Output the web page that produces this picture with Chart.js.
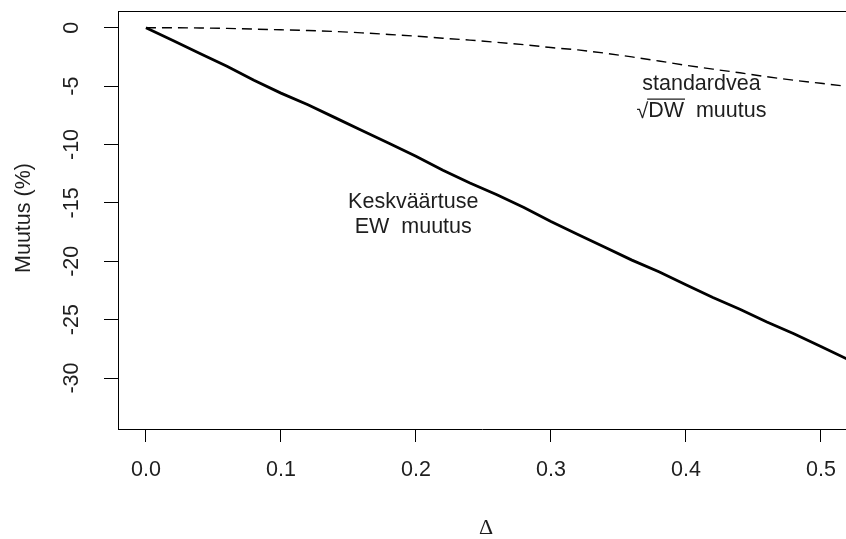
<!DOCTYPE html>
<html>
<head>
<meta charset="utf-8">
<script src="https://cdn.jsdelivr.net/npm/chart.js@4"></script>
<style>
html,body{margin:0;padding:0;background:#fff;overflow:hidden;}
#wrap{width:846px;height:539px;position:relative;}
</style>
</head>
<body>
<div id="wrap"><canvas id="c" width="846" height="539"></canvas></div>
<script>
// ---- data ----
const deltaX = [0, 0.02, 0.04, 0.06, 0.08, 0.10, 0.12, 0.14, 0.16, 0.18, 0.20, 0.22, 0.24, 0.26,
                0.28, 0.30, 0.32, 0.34, 0.36, 0.38, 0.40, 0.42, 0.44, 0.46, 0.48, 0.50, 0.52];
const ewChange = [0, -1.1, -2.2, -3.3, -4.5, -5.6, -6.6, -7.7, -8.8, -9.9, -11.0, -12.2, -13.3, -14.3,
                  -15.4, -16.6, -17.7, -18.8, -19.9, -20.9, -22.0, -23.1, -24.1, -25.2, -26.2, -27.3, -28.4];
const dwChange = [0, 0, -0.02, -0.06, -0.12, -0.18, -0.24, -0.32, -0.44, -0.58, -0.72, -0.90, -1.06, -1.25,
                  -1.45, -1.70, -1.90, -2.18, -2.50, -2.85, -3.22, -3.55, -3.86, -4.20, -4.50, -4.76, -5.03];
const xTicks = [0, 0.1, 0.2, 0.3, 0.4, 0.5];
const xTickLabels = ["0.0", "0.1", "0.2", "0.3", "0.4", "0.5"];
const yTicks = [0, -5, -10, -15, -20, -25, -30];
const yTickLabels = ["0", "-5", "-10", "-15", "-20", "-25", "-30"];
const xTitle = "\u0394";
const yTitle = "Muutus (%)";
const ewLabel = ["Keskväärtuse", "EW  muutus"];
const dwLabel = ["standardvea", "DW", "  muutus"];

const FONT = "'Liberation Sans', Arial, sans-serif";
const TXT = "#1e1e1e";

const pts = (ys) => deltaX.map((x, i) => ({x: x, y: ys[i]}));

const textPlugin = {
  id: 'texts',
  afterDraw(chart) {
    const ctx = chart.ctx;
    const a = chart.chartArea;
    const xs = chart.scales.x, ys = chart.scales.y;
    ctx.save();
    // top border of the plot box
    ctx.strokeStyle = '#000';
    ctx.lineWidth = 1;
    ctx.beginPath();
    ctx.moveTo(a.left, a.top + 0.5);
    ctx.lineTo(a.right, a.top + 0.5);
    ctx.stroke();

    ctx.fillStyle = TXT;
    ctx.font = "21.5px " + FONT;
    ctx.textAlign = 'center';
    ctx.textBaseline = 'middle';
    // y tick labels, rotated
    yTicks.forEach((v, i) => {
      const py = ys.getPixelForValue(v);
      ctx.save();
      ctx.translate(72, py);
      ctx.rotate(-Math.PI / 2);
      ctx.fillText(yTickLabels[i], 0, 0);
      ctx.restore();
    });
    // y title
    ctx.save();
    ctx.translate(24, (a.top + a.bottom) / 2 - 2);
    ctx.rotate(-Math.PI / 2);
    ctx.fillText(yTitle, 0, 0);
    ctx.restore();
    // x title
    ctx.save();
    ctx.font = "22px 'Liberation Serif', 'DejaVu Serif', serif";
    ctx.fillText(xTitle, 486, 528);
    ctx.restore();

    // EW label
    const ex = xs.getPixelForValue(0.198);
    ctx.fillText(ewLabel[0], ex, ys.getPixelForValue(-14.9));
    ctx.fillText(ewLabel[1], ex, ys.getPixelForValue(-17.1));

    // DW label
    const dx = xs.getPixelForValue(0.4115);
    ctx.fillText(dwLabel[0], dx, ys.getPixelForValue(-4.85));
    const y2 = ys.getPixelForValue(-7.15);
    const wr = ctx.measureText("\u221A").width;
    const wd = ctx.measureText(dwLabel[1]).width;
    const wm = ctx.measureText(dwLabel[2]).width;
    const total = wr + wd + wm;
    let sx = dx - total / 2;
    ctx.textAlign = 'left';
    ctx.fillText("\u221A", sx, y2 + 1);
    ctx.fillText(dwLabel[1], sx + wr, y2);
    ctx.fillText(dwLabel[2], sx + wr + wd, y2);
    ctx.strokeStyle = TXT;
    ctx.lineWidth = 1.2;
    ctx.beginPath();
    ctx.moveTo(sx + wr - 1, y2 - 12);
    ctx.lineTo(sx + wr + wd + 1, y2 - 12);
    ctx.stroke();
    ctx.restore();
  }
};

new Chart(document.getElementById('c'), {
  type: 'scatter',
  data: {
    datasets: [
      { data: pts(ewChange), showLine: true, borderColor: '#000', borderWidth: 2.8, pointRadius: 0, tension: 0 },
      { data: pts(dwChange), showLine: true, borderColor: '#000', borderWidth: 1.4, borderDash: [10, 6], pointRadius: 0, tension: 0 }
    ]
  },
  options: {
    responsive: false,
    animation: false,
    devicePixelRatio: 1,
    layout: { padding: { left: 0, right: 0, top: 11, bottom: 0 } },
    plugins: { legend: { display: false }, tooltip: { enabled: false }, title: { display: false } },
    scales: {
      x: {
        type: 'linear',
        min: -0.0207,
        max: 0.5186,
        afterBuildTicks: (s) => { s.ticks = xTicks.map(v => ({ value: v })); },
        afterFit: (s) => { s.height = 110; s.paddingRight = 0; s.paddingLeft = 0; },
        ticks: {
          callback: (v, i) => xTickLabels[i],
          color: TXT,
          font: { family: FONT, size: 21.5 },
          padding: 15,
          maxRotation: 0, minRotation: 0,
          autoSkip: false
        },
        grid: { drawOnChartArea: false, drawTicks: true, tickLength: 13, color: '#000', tickWidth: 1 },
        border: { display: true, color: '#000', width: 1 }
      },
      y: {
        type: 'linear',
        min: -34.36,
        max: 1.43,
        afterBuildTicks: (s) => { s.ticks = yTicks.map(v => ({ value: v })); },
        afterFit: (s) => { s.width = 118; s.paddingTop = 0; s.paddingBottom = 0; },
        ticks: { display: true, color: 'rgba(0,0,0,0)', font: { family: FONT, size: 21.5 } },
        grid: { drawOnChartArea: false, drawTicks: true, tickLength: 14, color: '#000', tickWidth: 1 },
        border: { display: true, color: '#000', width: 1 }
      }
    }
  },
  plugins: [textPlugin]
});
</script>
</body>
</html>
